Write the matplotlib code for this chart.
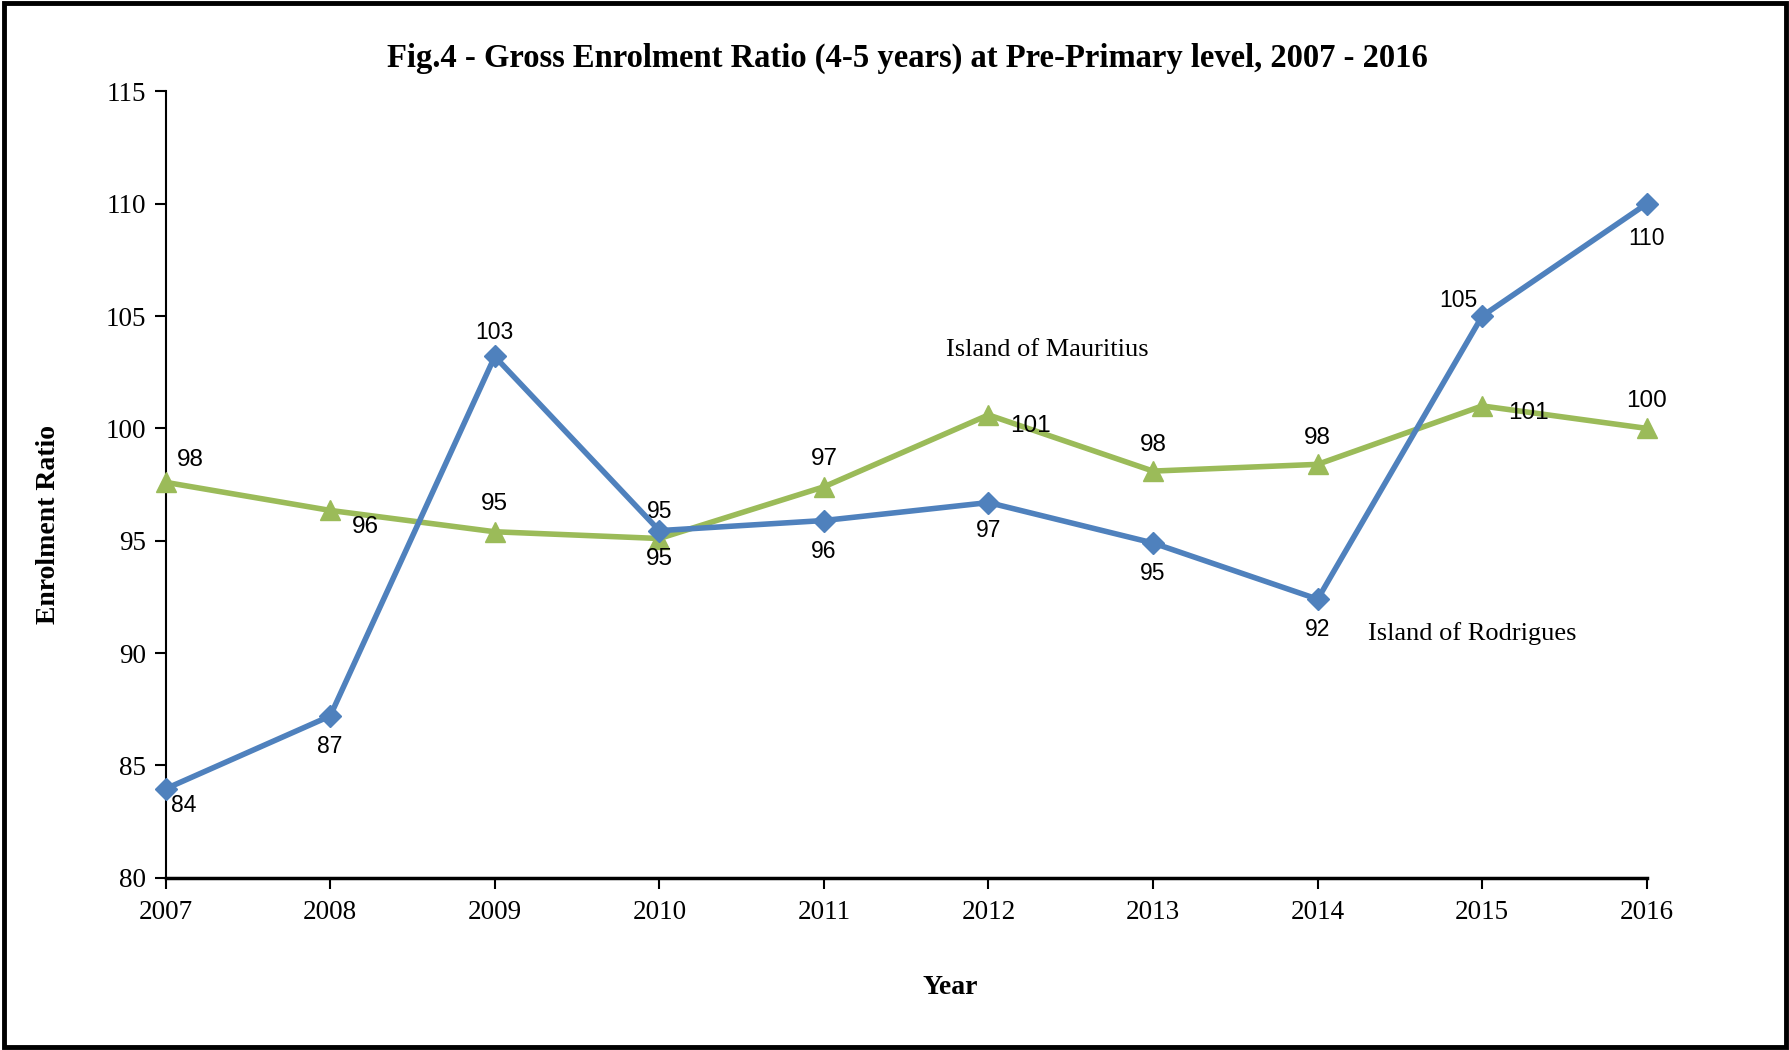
import matplotlib
matplotlib.use("Agg")
import matplotlib.pyplot as plt
from matplotlib.patches import Rectangle

# Data
years = [2007, 2008, 2009, 2010, 2011, 2012, 2013, 2014, 2015, 2016]
mauritius = [97.6, 96.35, 95.4, 95.1, 97.4, 100.6, 98.1, 98.4, 101.0, 100.0]
rodrigues = [83.96, 87.2, 103.2, 95.45, 95.9, 96.7, 94.9, 92.4, 105.0, 110.0]

# label offsets (points) for the value labels
mau_offsets = [(18, 16), (25, -12), (0, 20), (0, -15), (0, 20), (30, -8),
               (0, 19), (0, 19), (33, -5), (0, 20)]
rod_offsets = [(13, -12), (0, -22), (0, 17), (0, 14), (0, -22), (0, -20),
               (0, -22), (0, -22), (-17, 11), (0, -25)]

BLUE = "#4F81BD"
GREEN = "#9BBB59"
SERIF = "Liberation Serif"
SANS = "Liberation Sans"

fig = plt.figure(figsize=(17.9, 10.5), dpi=100)
ax = fig.add_axes([0.0925, 0.164, 0.8275, 0.749])

ax.plot(years, mauritius, color=GREEN, lw=4, marker="^", ms=14,
        clip_on=False, zorder=3)
ax.plot(years, rodrigues, color=BLUE, lw=4, marker="D", ms=11,
        clip_on=False, zorder=4)

for x, y, off in zip(years, mauritius, mau_offsets):
    ax.annotate(f"{round(y)}", (x, y), xytext=off, textcoords="offset points",
                ha="center", va="center", fontsize=17.5, family=SANS)
for x, y, off in zip(years, rodrigues, rod_offsets):
    ax.annotate(f"{round(y)}", (x, y), xytext=off, textcoords="offset points",
                ha="center", va="center", fontsize=16.5, family=SANS)

ax.text(2012.36, 103.5, "Island of Mauritius", ha="center", va="center",
        fontsize=19, family=SERIF)
ax.text(2014.94, 90.87, "Island of Rodrigues", ha="center", va="center",
        fontsize=19, family=SERIF)

ax.set_xlim(2007, 2016)
ax.set_ylim(80, 115)
ax.set_xticks(years)
ax.set_yticks(range(80, 116, 5))
for lab in ax.get_xticklabels() + ax.get_yticklabels():
    lab.set_family(SERIF)
    lab.set_fontsize(19.5)
ax.tick_params(axis="both", direction="out", length=8, width=1.5, color="black")
ax.tick_params(axis="x", pad=8)
ax.tick_params(axis="y", pad=6)

for side in ["top", "right"]:
    ax.spines[side].set_visible(False)
ax.spines["left"].set_linewidth(1.5)
ax.spines["bottom"].set_linewidth(2.5)

fig.text(0.507, 0.944, "Fig.4 - Gross Enrolment Ratio (4-5 years) at Pre-Primary level, 2007 - 2016",
         ha="center", va="center", fontsize=23.5, fontweight="bold", family=SERIF)
fig.text(0.027, 0.5, "Enrolment Ratio", rotation=90, ha="center", va="center",
         fontsize=20, fontweight="bold", family=SERIF)
fig.text(0.531, 0.06, "Year", ha="center", va="center",
         fontsize=20, fontweight="bold", family=SERIF)

# outer frame around the whole chart
fig.patches.append(Rectangle((0.002, 0.003), 0.996, 0.994, transform=fig.transFigure,
                             fill=False, edgecolor="black", lw=3.5))

fig.savefig("out.png", dpi=100)
